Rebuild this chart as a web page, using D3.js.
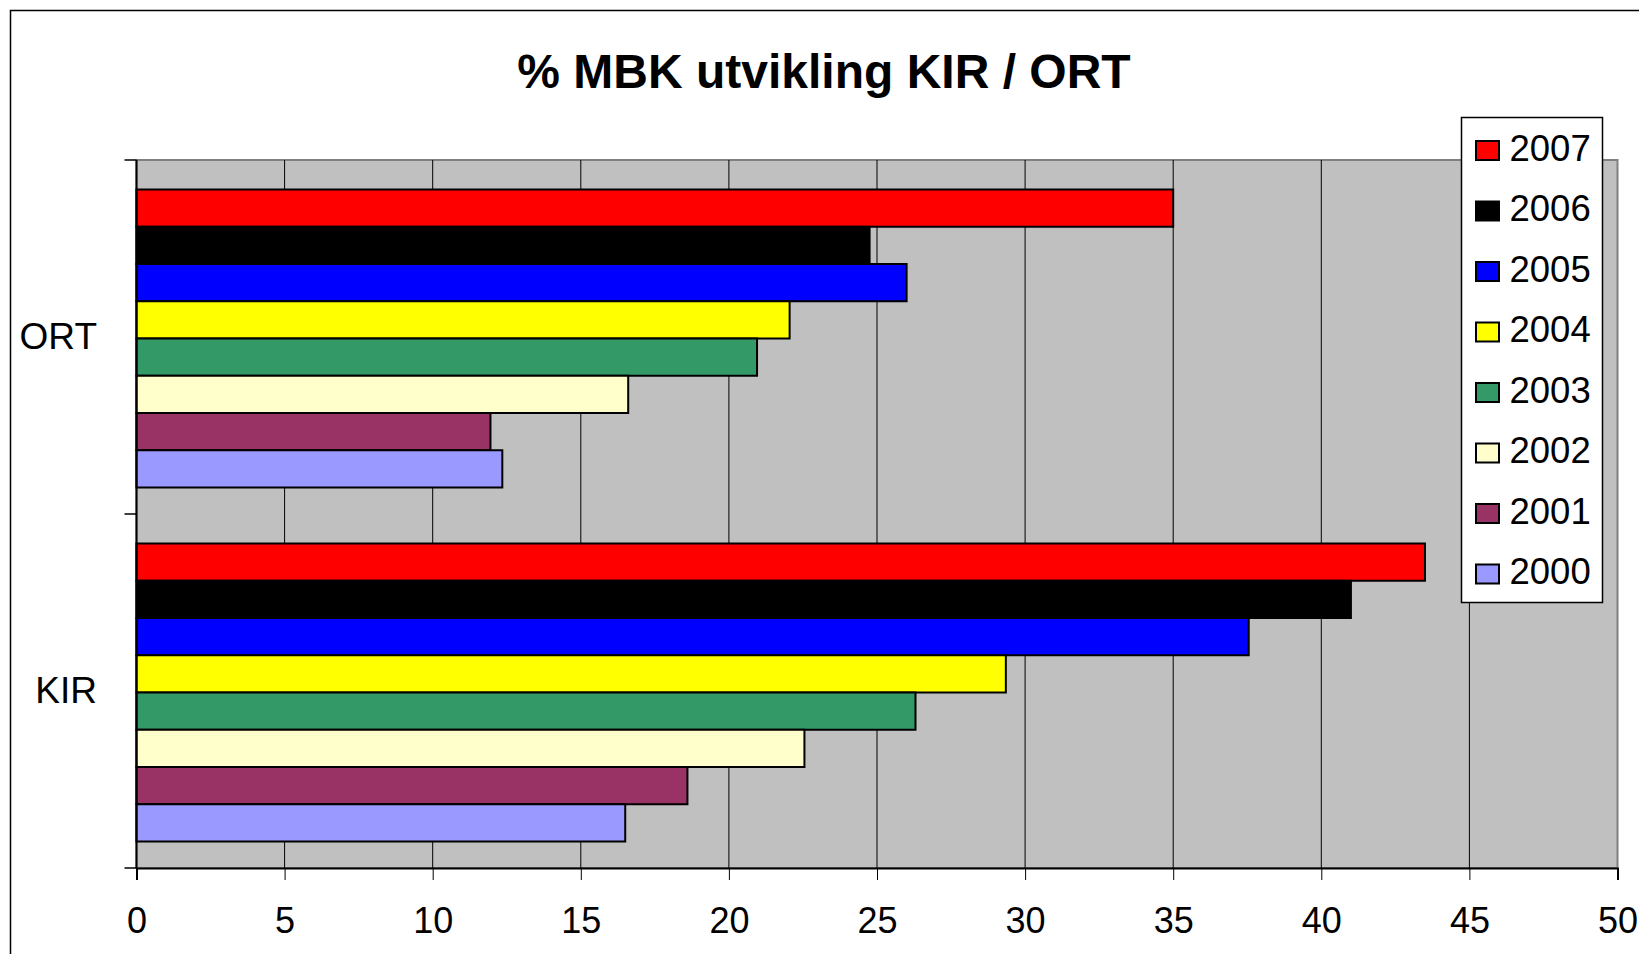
<!DOCTYPE html>
<html>
<head>
<meta charset="utf-8">
<script src="https://cdn.jsdelivr.net/npm/d3@7"></script>
<style>
    body { margin: 0; background: #fff; }
    svg { display: block; font-family: Arial, "Liberation Sans", sans-serif; }
</style>
</head>
<body>
<svg id="svg-main" width="1639" height="954"></svg>
<script>
var categories = ["ORT", "KIR"];
var years = ["2007", "2006", "2005", "2004", "2003", "2002", "2001", "2000"];
var colors = ["#ff0000", "#000000", "#0000ff", "#ffff00", "#339966", "#ffffcc", "#993366", "#9999ff"];
var ortValues = [35.0, 24.75, 26.0, 22.05, 20.95, 16.6, 11.95, 12.35];
var kirValues = [43.5, 41.0, 37.55, 29.35, 26.3, 22.55, 18.6, 16.5];
var xTicks = [0, 5, 10, 15, 20, 25, 30, 35, 40, 45, 50];
var title = "% MBK utvikling KIR / ORT";

window.onload = function () {
    var svg = d3.select("svg");
    var plot = {left: 136.5, right: 1617.5, top: 160, bottom: 868};

    // outer chart frame
    svg.append("rect")
        .attr("x", 10.5).attr("y", 10.5)
        .attr("width", 1660).attr("height", 980)
        .attr("fill", "#fff")
        .attr("stroke", "#000").attr("stroke-width", 1.5);

    svg.append("text")
        .attr("x", 824).attr("y", 88)
        .attr("text-anchor", "middle")
        .attr("font-size", 48).attr("font-weight", "bold")
        .text(title);

    var x = d3.scaleLinear().domain([0, 50]).range([plot.left, plot.right]);
    var y0 = d3.scaleBand().domain(categories).range([plot.top, plot.bottom]);
    var y1 = d3.scaleBand().domain(years)
        .range([29.5, y0.bandwidth() - 26.5]);

    // plot background with grey frame
    svg.append("rect")
        .attr("x", plot.left).attr("y", plot.top)
        .attr("width", plot.right - plot.left).attr("height", plot.bottom - plot.top)
        .attr("fill", "#c0c0c0")
        .attr("stroke", "#808080").attr("stroke-width", 2);

    svg.append("g")
        .selectAll("line")
        .data(xTicks.slice(1, -1))
        .enter().append("line")
        .attr("x1", function (d) { return x(d); })
        .attr("x2", function (d) { return x(d); })
        .attr("y1", plot.top).attr("y2", plot.bottom)
        .attr("stroke", "#000").attr("stroke-width", 1);

    var rows = [
        {cat: "ORT", values: ortValues},
        {cat: "KIR", values: kirValues}
    ];

    var group = svg.append("g")
        .selectAll("g")
        .data(rows)
        .enter().append("g")
        .attr("transform", function (d) { return "translate(0," + y0(d.cat) + ")"; });

    group.selectAll("rect")
        .data(function (d) {
            return d.values.map(function (v, i) { return {year: years[i], value: v, color: colors[i]}; });
        })
        .enter().append("rect")
        .attr("x", x(0))
        .attr("y", function (d) { return y1(d.year); })
        .attr("width", function (d) { return x(d.value) - x(0); })
        .attr("height", y1.bandwidth())
        .attr("fill", function (d) { return d.color; })
        .attr("stroke", "#000").attr("stroke-width", 2);

    // x axis
    var xAxis = svg.append("g")
        .attr("transform", "translate(0," + plot.bottom + ")")
        .call(d3.axisBottom(x).tickValues(xTicks).tickSize(12).tickPadding(27));
    xAxis.select(".domain").attr("stroke", "#000").attr("stroke-width", 2);
    xAxis.selectAll(".tick line").attr("stroke", "#000");
    xAxis.selectAll("text")
        .attr("font-size", 36).attr("fill", "#000")
        .attr("font-family", "Arial, 'Liberation Sans', sans-serif");

    // y axis: ticks on band edges, labels at band centres
    svg.append("line")
        .attr("x1", plot.left).attr("x2", plot.left)
        .attr("y1", plot.top).attr("y2", plot.bottom)
        .attr("stroke", "#000").attr("stroke-width", 2);

    var edges = [plot.top].concat(categories.map(function (c) { return y0(c) + y0.bandwidth(); }));
    svg.append("g")
        .selectAll("line")
        .data(edges)
        .enter().append("line")
        .attr("x1", plot.left - 12).attr("x2", plot.left)
        .attr("y1", function (d) { return d; })
        .attr("y2", function (d) { return d; })
        .attr("stroke", "#000").attr("stroke-width", 1.5);

    svg.append("g")
        .selectAll("text")
        .data(categories)
        .enter().append("text")
        .attr("x", 97)
        .attr("y", function (d) { return y0(d) + y0.bandwidth() / 2 + 12; })
        .attr("text-anchor", "end")
        .attr("font-size", 37)
        .text(function (d) { return d; });

    // legend
    var legend = svg.append("g").attr("transform", "translate(1461.5,117.5)");
    legend.append("rect")
        .attr("width", 141).attr("height", 485)
        .attr("fill", "#fff")
        .attr("stroke", "#000").attr("stroke-width", 1.5);

    var item = legend.selectAll("g")
        .data(years)
        .enter().append("g")
        .attr("transform", function (d, i) { return "translate(0," + (33 + i * 60.5) + ")"; });

    item.append("rect")
        .attr("x", 14.5).attr("y", -9.5)
        .attr("width", 23).attr("height", 19)
        .attr("fill", function (d, i) { return colors[i]; })
        .attr("stroke", "#000").attr("stroke-width", 2);

    item.append("text")
        .attr("x", 48).attr("y", 10)
        .attr("font-size", 36.5)
        .text(function (d) { return d; });
};
</script>
</body>
</html>
